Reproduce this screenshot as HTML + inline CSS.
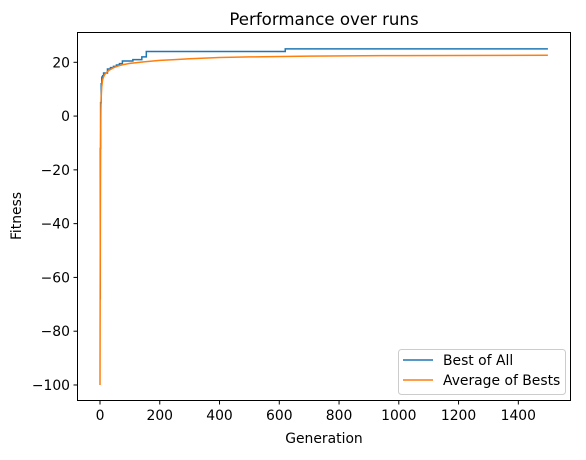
<!DOCTYPE html>
<html><head><meta charset="utf-8"><style>
body{margin:0;background:#fff}
svg text{font-family:"DejaVu Sans","Liberation Sans",sans-serif;fill:#000}
</style></head><body>
<svg id="chart" width="586" height="455">
<text x="324" y="25" font-size="16.6" text-anchor="middle">Performance over runs</text>
<g id="plot"></g>
<rect x="77.5" y="32.5" width="493" height="368" fill="none" stroke="#000" stroke-width="1"/>
<g id="xt"></g><g id="yt"></g>
<text x="324" y="443" font-size="13.9" text-anchor="middle">Generation</text>
<text x="21" y="216" font-size="13.9" text-anchor="middle" transform="rotate(-90 21 216)">Fitness</text>
<g>
<rect x="398.5" y="349.5" width="167" height="45" rx="3" fill="#fff" fill-opacity="0.8" stroke="#ccc"/>
<g><line x1="403" y1="360" x2="433" y2="360" stroke="#1f77b4" stroke-width="1.5"/><text x="443" y="365" font-size="13.9">Best of All</text></g>
<g><line x1="403" y1="380" x2="433" y2="380" stroke="#ff7f0e" stroke-width="1.5"/><text x="443" y="385" font-size="13.9">Average of Bests</text></g>
</g>
</svg>
<script>
const bestGens=[0,1,2,4,6,9,12,20,25,35,45,55,65,75,90,110,130,140,155,620,1499];
const bestVals=[-68,-12,5,12,14.5,15,16,16,17.5,18,18.5,19,19.5,20.5,20.5,21,21,22,24,25,25];
const avgGens=[0,1,2,3,4,6,8,10,15,20,30,45,60,80,100,150,200,250,300,400,500,700,1000,1499];
const avgVals=[-100,-40,-10,2,7,11,13,14,15.3,16,17,18,18.6,19.2,19.6,20.2,20.7,21,21.3,21.8,22,22.3,22.5,22.6];
const xTicks=[0,200,400,600,800,1000,1200,1400];
const yTicks=[-100,-80,-60,-40,-20,0,20];
const X=v=>100+v*0.2988, Y=v=>62.3+(20-v)*2.689;
const NS="http://www.w3.org/2000/svg";
const plot=document.getElementById('plot');
let d='';
bestGens.forEach((g,i)=>{ if(i==0) d+='M'+X(g)+' '+Y(bestVals[i]); else d+=' H'+X(g)+' V'+Y(bestVals[i]); });
let p=document.createElementNS(NS,'path');p.setAttribute('d',d);p.setAttribute('fill','none');p.setAttribute('stroke','#1f77b4');p.setAttribute('stroke-width','1.5');


plot.appendChild(p);
let d2=avgGens.map((g,i)=>(i?'L':'M')+X(g)+' '+Y(avgVals[i])).join(' ');
let p2=document.createElementNS(NS,'path');p2.setAttribute('d',d2);p2.setAttribute('fill','none');p2.setAttribute('stroke','#ff7f0e');p2.setAttribute('stroke-width','1.5');


plot.appendChild(p2);
const xt=document.getElementById('xt');
xTicks.forEach(t=>{const x=X(t);
 const g=document.createElementNS(NS,'g');
 
 
 g.innerHTML=`<line x1="${x}" y1="401" x2="${x}" y2="404.5" stroke="#000"/><text x="${x}" y="420" font-size="13.9" text-anchor="middle">${t}</text>`;
 xt.appendChild(g);});
const yt=document.getElementById('yt');
yTicks.forEach(t=>{const y=Y(t);
 const g=document.createElementNS(NS,'g');
 
 
 g.innerHTML=`<line x1="73.5" y1="${y}" x2="77" y2="${y}" stroke="#000"/><text x="70" y="${y+5}" font-size="13.9" text-anchor="end">${t<0?'\u2212'+(-t):t}</text>`;
 yt.appendChild(g);});
</script>
</body></html>
